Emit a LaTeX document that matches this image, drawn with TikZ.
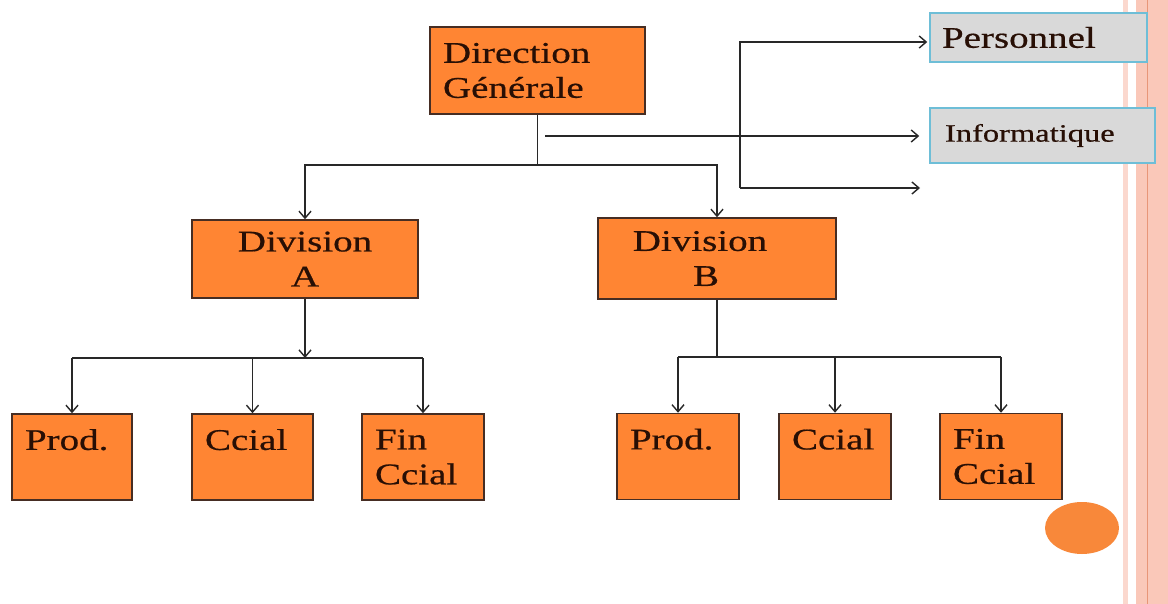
\documentclass[tikz,border=0pt]{standalone}
\usepackage{fontspec}
\setmainfont[FakeStretch=1.3,FakeBold=0.6]{Liberation Serif}
\usetikzlibrary{arrows.meta}
\definecolor{boxorange}{RGB}{255,133,51}
\definecolor{boxline}{RGB}{70,45,35}
\definecolor{txtcol}{RGB}{40,15,5}
\definecolor{wirecol}{RGB}{40,40,40}
\definecolor{sidefill}{RGB}{217,217,217}
\definecolor{sideline}{RGB}{110,190,215}
\definecolor{stripe}{RGB}{250,200,185}
\definecolor{stripedark}{RGB}{232,150,120}
\definecolor{dotcol}{RGB}{248,136,58}
\tikzset{
  orgbox/.style={draw=boxline, fill=boxorange, line width=1.5pt, text=txtcol,
    font=\fontsize{30}{35}\selectfont, inner sep=0pt},
  leaf/.style={orgbox, minimum height=86pt, text width=#1, inner xsep=13pt, align=left},
  sidebox/.style={draw=sideline, fill=sidefill, line width=1.5pt, text=txtcol,
    inner ysep=0pt, align=left},
  wire/.style={draw=wirecol, line width=1.4pt},
  arr/.style={wire, -{Straight Barb[length=7pt,width=12pt,line width=1.4pt]}}
}
\begin{document}
\begin{tikzpicture}[x=1pt,y=-1pt]
\fill[white] (0,0) rectangle (1168,604);
\useasboundingbox (0,0) rectangle (1168,604);

% right-hand border stripes
\fill[stripe!70] (1123,0) rectangle (1128,604);
\fill[stripe] (1136,0) rectangle (1168,604);
\fill[stripedark] (1146.5,0) rectangle (1148,604);

% decorative dot
\fill[dotcol] (1082,528) ellipse [x radius=37pt, y radius=26pt];

% boxes
\node[orgbox, minimum height=87pt, text width=189pt, inner xsep=13pt, align=left]
  (dg) at (537.5,70.5) {Direction\\Générale};
\node[orgbox, minimum width=226pt, minimum height=78pt, align=center]
  (divA) at (305,259) {Division\\A};
\node[orgbox, minimum width=238pt, minimum height=81pt, align=center]
  (divB) at (717,258.5) {Division\hspace*{34pt}\\B\hspace*{22pt}};

\node[leaf=94pt]  (pA) at (72,457)    {Prod.\\\mbox{}};
\node[leaf=95pt]  (cA) at (252.5,457) {Ccial\\\mbox{}};
\node[leaf=96pt]  (fA) at (423,457)   {Fin\\Ccial};
\node[leaf=96pt]  (pB) at (678,456.5) {Prod.\\\mbox{}};
\node[leaf=86pt]  (cB) at (835,456.5) {Ccial\\\mbox{}};
\node[leaf=96pt]  (fB) at (1001,456.5) {Fin\\Ccial};

\node[sidebox, minimum height=49pt, text width=193pt, inner xsep=12pt,
  font=\fontsize{30}{35}\selectfont] (pers) at (1038.5,37.5) {Personnel};
\node[sidebox, minimum height=55pt, text width=195pt, inner xsep=15pt,
  font=\fontsize{25}{30}\selectfont] (info) at (1042.5,135.5) {Informatique};

% Direction Générale to the two divisions
\coordinate (dgbus) at (537.5,165);
\draw[wire] (dg.south) -- (dgbus);
\draw[arr] (dgbus) -| (divA.north);
\draw[arr] (dgbus) -| (divB.north);

% staff services
\coordinate (infostart) at (545,136);
\draw[arr, shorten >=10pt] (infostart) -- (info.west |- infostart);
\coordinate (ptop) at (740,42);
\coordinate (pbot) at (740,188);
\coordinate (pend) at (920,188);
\draw[arr] (pbot) -- (ptop) -- ([xshift=-2pt]pers.west |- ptop);
\draw[arr] (pbot) -- (pend);

% Division A departments
\coordinate (busA) at (305,358);
\draw[arr] (divA.south) -- (busA);
\draw[wire] (pA.north |- busA) -- (fA.north |- busA);
\foreach \n in {pA,cA,fA} \draw[arr] (\n.north |- busA) -- (\n.north);

% Division B departments
\coordinate (busB) at (717,357);
\draw[wire] (divB.south) -- (busB);
\draw[wire] (pB.north |- busB) -- (fB.north |- busB);
\foreach \n in {pB,cB,fB} \draw[arr] (\n.north |- busB) -- (\n.north);
\end{tikzpicture}
\end{document}
